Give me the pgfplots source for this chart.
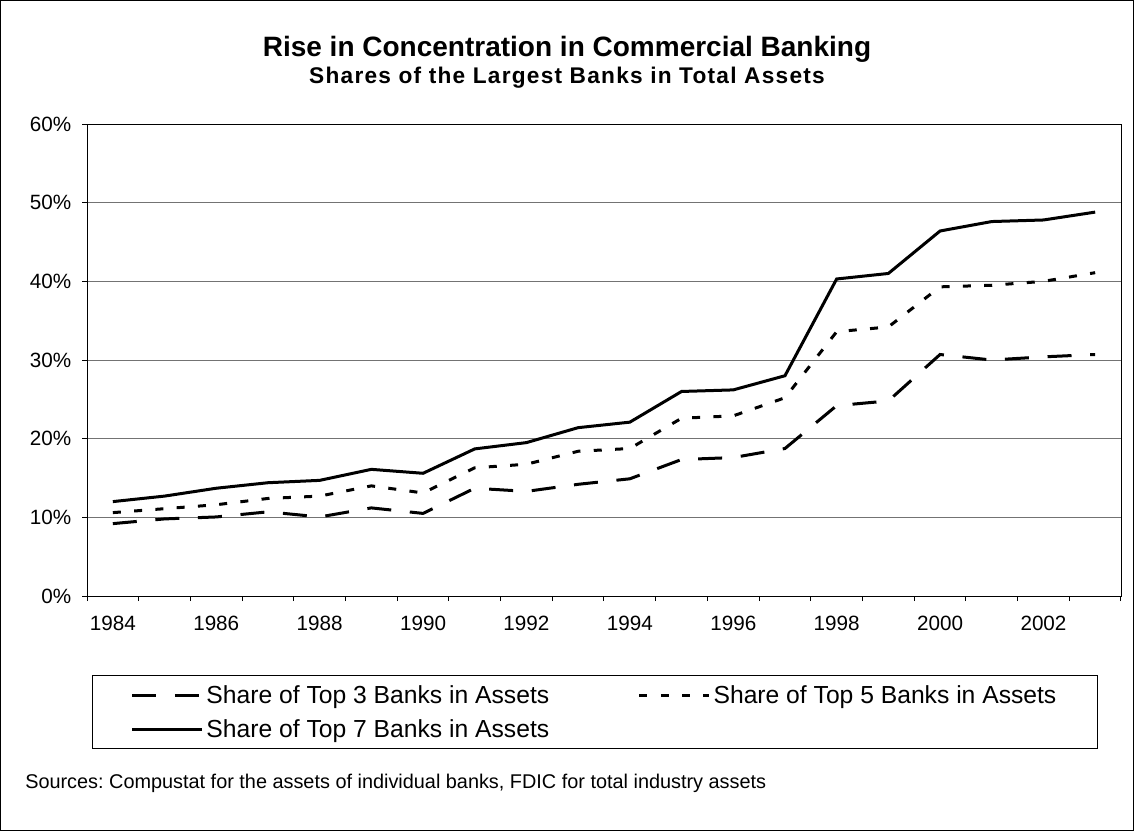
\documentclass[border=0pt]{standalone}
\usepackage{fontspec}
\setmainfont{Liberation Sans}
\usepackage{pgfplots}
\pgfplotsset{compat=1.18}
\pgfplotstableread{
year top3 top5 top7
1984 9.2 10.6 12.0
1985 9.8 11.1 12.7
1986 10.05 11.6 13.7
1987 10.7 12.4 14.4
1988 10.05 12.7 14.7
1989 11.2 14.0 16.1
1990 10.5 13.1 15.6
1991 13.7 16.3 18.7
1992 13.3 16.75 19.5
1993 14.2 18.4 21.4
1994 14.9 18.75 22.1
1995 17.35 22.6 26.0
1996 17.6 22.9 26.2
1997 18.75 25.2 28.0
1998 24.2 33.6 40.3
1999 24.8 34.2 41.0
2000 30.7 39.3 46.4
2001 30.0 39.5 47.6
2002 30.4 40.0 47.8
2003 30.7 41.1 48.8
}\datatable
\begin{document}
\frenchspacing
\begin{tikzpicture}
\useasboundingbox (0,0) rectangle (850.5pt,-623.25pt);
\draw[line width=0.75pt] (0.375pt,-0.375pt) rectangle (850.125pt,-622.875pt);
\node[font=\bfseries\fontsize{21}{25}\selectfont] at (425.25pt,-36.75pt) {Rise in Concentration in Commercial Banking};
\node[font=\addfontfeatures{LetterSpace=5.5}\bfseries\fontsize{17}{20}\selectfont] at (425.25pt,-58.5pt) {Shares of the Largest Banks in Total Assets};
\node[anchor=west, inner sep=0pt, font=\fontsize{14.9}{18}\selectfont] at (18.75pt,-587.25pt) {Sources: Compustat for the assets of individual banks, FDIC for total industry assets};
\begin{axis}[
  at={(65.25pt,-447pt)}, anchor=south west,
  scale only axis, width=775.5pt, height=354pt,
  xmin=1983.5, xmax=2003.5, ymin=0, ymax=60,
  xtick={1984,1986,...,2002},
  minor xtick={1983.5,1984.5,...,2003.5},
  major x tick style={draw=none},
  ytick={0,10,...,60},
  tick align=outside, tick pos=left,
  major tick length=3.75pt, minor tick length=3.75pt,
  /pgf/number format/assume math mode=true,
  /pgf/number format/1000 sep={},
  yticklabel={\pgfmathprintnumber{\tick}\%},
  ticklabel style={font=\fontsize{15.5}{18}\selectfont, black},
  xticklabel style={yshift=-8pt},
  yticklabel style={xshift=-4.5pt},
  ymajorgrids, major grid style={gray!90!black, line width=0.75pt},
  axis line style={black, line width=0.75pt},
  every tick/.style={black, line width=0.75pt},
  legend style={at={(0.0048,-0.168)}, anchor=north west, draw=black, line width=0.75pt,
    font=\fontsize{18.5}{22}\selectfont, inner xsep=28.75pt, inner ysep=5pt, row sep=7pt,
    /tikz/every even column/.append style={column sep=64.5pt}},
  legend columns=2, legend cell align=left,
  legend image code/.code={\draw[#1] (0pt,0pt) -- (52.5pt,0pt);},
]
\addplot[black, line width=2.25pt, dash pattern=on 18pt off 14pt] table[x=year,y=top3] {\datatable};
\addlegendentry{Share of Top 3 Banks in Assets}
\addplot[black, line width=2.25pt, dash pattern=on 6pt off 10pt] table[x=year,y=top5] {\datatable};
\addlegendentry{Share of Top 5 Banks in Assets}
\addplot[black, line width=2.25pt] table[x=year,y=top7] {\datatable};
\addlegendentry{Share of Top 7 Banks in Assets}
\end{axis}
\end{tikzpicture}
\end{document}
